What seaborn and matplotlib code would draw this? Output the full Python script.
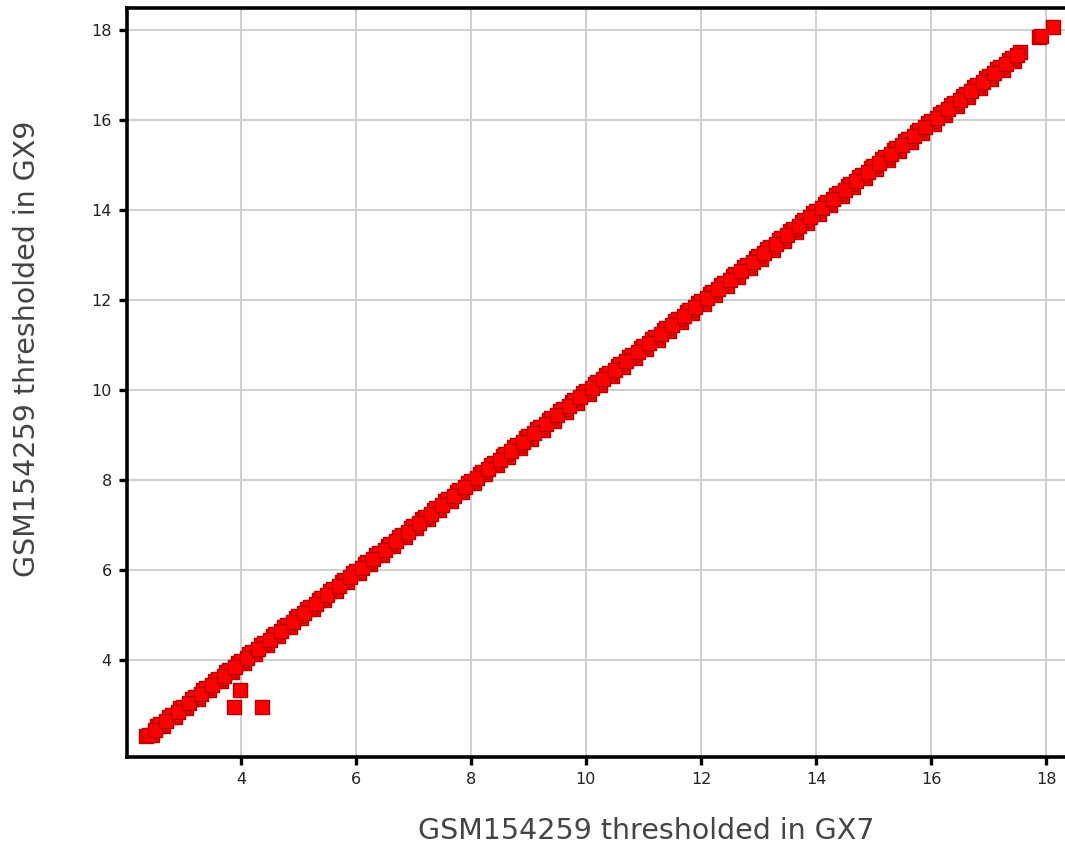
import pandas as pd
import matplotlib
matplotlib.use("Agg")
import matplotlib.pyplot as plt
import seaborn as sns

# values (GX7 vs GX9 thresholded signal)
gx7_a = [2.35, 2.55, 2.75, 2.95, 3.15, 3.35, 3.55, 3.75, 3.95, 4.15, 4.35, 4.55, 4.75, 4.95,
         5.15, 5.35, 5.55, 5.75, 5.95, 6.15, 6.35, 6.55, 6.75, 6.95, 7.15, 7.35, 7.55, 7.75,
         7.95, 8.15, 8.35, 8.55, 8.75, 8.95, 9.15, 9.35, 9.55, 9.75, 9.95, 10.15, 10.35, 10.55,
         10.75, 10.95, 11.15, 11.35, 11.55, 11.75, 11.95, 12.15, 12.35, 12.55, 12.75, 12.95,
         13.15, 13.35, 13.55, 13.75, 13.95, 14.15, 14.35, 14.55, 14.75, 14.95, 15.15, 15.35,
         15.55, 15.75, 15.95, 16.15, 16.35, 16.55, 16.75, 16.95, 17.15, 17.35, 17.55, 17.88, 18.13]
gx9_a = [2.30, 2.52, 2.73, 2.92, 3.14, 3.33, 3.53, 3.74, 3.93, 4.13, 4.34, 4.53, 4.74, 4.93,
         5.13, 5.34, 5.53, 5.74, 5.94, 6.13, 6.34, 6.53, 6.74, 6.93, 7.14, 7.33, 7.54, 7.73,
         7.94, 8.13, 8.34, 8.53, 8.74, 8.94, 9.13, 9.34, 9.53, 9.74, 9.93, 10.14, 10.33, 10.54,
         10.73, 10.94, 11.13, 11.34, 11.53, 11.74, 11.93, 12.14, 12.33, 12.54, 12.73, 12.94,
         13.13, 13.34, 13.54, 13.73, 13.94, 14.13, 14.34, 14.53, 14.74, 14.93, 15.14, 15.33,
         15.54, 15.73, 15.94, 16.13, 16.34, 16.53, 16.74, 16.93, 17.13, 17.33, 17.52, 17.84, 18.07]

gx7_b = [2.45, 2.65, 2.85, 3.05, 3.25, 3.45, 3.65, 3.85, 4.05, 4.25, 4.45, 4.65, 4.85, 5.05,
         5.25, 5.45, 5.65, 5.85, 6.05, 6.25, 6.45, 6.65, 6.85, 7.05, 7.25, 7.45, 7.65, 7.85,
         8.05, 8.25, 8.45, 8.65, 8.85, 9.05, 9.25, 9.45, 9.65, 9.85, 10.05, 10.25, 10.45, 10.65,
         10.85, 11.05, 11.25, 11.45, 11.65, 11.85, 12.05, 12.25, 12.45, 12.65, 12.85, 13.05,
         13.25, 13.45, 13.65, 13.85, 14.05, 14.25, 14.45, 14.65, 14.85, 15.05, 15.25, 15.45,
         15.65, 15.85, 16.05, 16.25, 16.45, 16.65, 16.85, 17.05, 17.25, 17.45, 17.92]
gx9_b = [2.32, 2.52, 2.72, 2.92, 3.12, 3.32, 3.52, 3.72, 3.92, 4.12, 4.32, 4.52, 4.72, 4.92,
         5.12, 5.32, 5.52, 5.72, 5.92, 6.12, 6.32, 6.52, 6.72, 6.92, 7.12, 7.32, 7.52, 7.72,
         7.92, 8.12, 8.32, 8.52, 8.72, 8.92, 9.12, 9.32, 9.52, 9.72, 9.92, 10.12, 10.32, 10.52,
         10.72, 10.92, 11.12, 11.32, 11.52, 11.72, 11.92, 12.12, 12.32, 12.52, 12.72, 12.92,
         13.12, 13.32, 13.52, 13.72, 13.92, 14.12, 14.32, 14.52, 14.72, 14.92, 15.12, 15.32,
         15.52, 15.72, 15.92, 16.12, 16.32, 16.52, 16.72, 16.92, 17.12, 17.32, 17.86]

gx7_c = [2.40, 2.60, 2.80, 3.00, 3.20, 3.40, 3.60, 3.80, 4.00, 4.20, 4.40, 4.60, 4.80, 5.00,
         5.20, 5.40, 5.60, 5.80, 6.00, 6.20, 6.40, 6.60, 6.80, 7.00, 7.20, 7.40, 7.60, 7.80,
         8.00, 8.20, 8.40, 8.60, 8.80, 9.00, 9.20, 9.40, 9.60, 9.80, 10.00, 10.20, 10.40, 10.60,
         10.80, 11.00, 11.20, 11.40, 11.60, 11.80, 12.00, 12.20, 12.40, 12.60, 12.80, 13.00,
         13.20, 13.40, 13.60, 13.80, 14.00, 14.20, 14.40, 14.60, 14.80, 15.00, 15.20, 15.40,
         15.60, 15.80, 16.00, 16.20, 16.40, 16.60, 16.80, 17.00, 17.20, 17.40]
gx9_c = [2.33, 2.57, 2.77, 2.96, 3.17, 3.37, 3.57, 3.77, 3.97, 4.17, 4.37, 4.57, 4.77, 4.97,
         5.17, 5.37, 5.57, 5.77, 5.97, 6.17, 6.37, 6.57, 6.77, 6.97, 7.17, 7.37, 7.57, 7.77,
         7.97, 8.17, 8.37, 8.57, 8.77, 8.97, 9.17, 9.37, 9.57, 9.77, 9.97, 10.17, 10.37, 10.57,
         10.77, 10.97, 11.17, 11.37, 11.57, 11.77, 11.97, 12.17, 12.37, 12.57, 12.77, 12.97,
         13.17, 13.37, 13.57, 13.77, 13.97, 14.17, 14.37, 14.57, 14.77, 14.97, 15.17, 15.37,
         15.57, 15.77, 15.97, 16.17, 16.37, 16.57, 16.77, 16.97, 17.17, 17.37]

gx7_d = [2.50, 2.70, 2.90, 3.10, 3.30, 3.50, 3.70, 3.90, 4.10, 4.30, 4.50, 4.70, 4.90, 5.10,
         5.30, 5.50, 5.70, 5.90, 6.10, 6.30, 6.50, 6.70, 6.90, 7.10, 7.30, 7.50, 7.70, 7.90,
         8.10, 8.30, 8.50, 8.70, 8.90, 9.10, 9.30, 9.50, 9.70, 9.90, 10.10, 10.30, 10.50, 10.70,
         10.90, 11.10, 11.30, 11.50, 11.70, 11.90, 12.10, 12.30, 12.50, 12.70, 12.90, 13.10,
         13.30, 13.50, 13.70, 13.90, 14.10, 14.30, 14.50, 14.70, 14.90, 15.10, 15.30, 15.50,
         15.70, 15.90, 16.10, 16.30, 16.50, 16.70, 16.90, 17.10, 17.30, 17.50]
gx9_d = [2.45, 2.64, 2.85, 3.04, 3.25, 3.44, 3.65, 3.84, 4.05, 4.24, 4.45, 4.64, 4.85, 5.04,
         5.25, 5.44, 5.65, 5.84, 6.05, 6.24, 6.45, 6.64, 6.85, 7.04, 7.25, 7.44, 7.65, 7.84,
         8.05, 8.24, 8.45, 8.64, 8.85, 9.04, 9.25, 9.44, 9.65, 9.84, 10.05, 10.24, 10.45, 10.64,
         10.85, 11.04, 11.25, 11.44, 11.65, 11.84, 12.05, 12.24, 12.45, 12.64, 12.85, 13.04,
         13.25, 13.44, 13.65, 13.84, 14.05, 14.24, 14.45, 14.64, 14.85, 15.04, 15.25, 15.44,
         15.65, 15.84, 16.05, 16.24, 16.45, 16.64, 16.85, 17.04, 17.25, 17.45]

# the three genes that fall off the diagonal
gx7_out = [3.88, 3.98, 4.37]
gx9_out = [2.96, 3.33, 2.96]

x_ticks = [4, 6, 8, 10, 12, 14, 16, 18]
y_ticks = [4, 6, 8, 10, 12, 14, 16, 18]

df = pd.DataFrame({
    "gx7": gx7_a + gx7_b + gx7_c + gx7_d + gx7_out,
    "gx9": gx9_a + gx9_b + gx9_c + gx9_d + gx9_out,
})

sns.set_style("white")
plt.rcParams["font.family"] = ["DejaVu Sans"]

fig = plt.figure(figsize=(10.65, 8.52), dpi=100)
ax = fig.add_axes([127 / 1065, 95 / 852, 1 - 127 / 1065, 749 / 852])

sns.scatterplot(data=df, x="gx7", y="gx9", marker="s", s=105,
                color="#ff0000", edgecolor="#b80000", linewidth=1.0, ax=ax, zorder=3)

ax.set_xlim(2.02, 18.33)
ax.set_ylim(1.84, 18.49)
ax.set_xticks(x_ticks)
ax.set_yticks(y_ticks)
ax.grid(True, color="#cfcfcf", linewidth=1.4, zorder=0)
ax.set_axisbelow(True)

for side in ["left", "bottom", "top"]:
    ax.spines[side].set_color("black")
    ax.spines[side].set_linewidth(2.6)
ax.spines["right"].set_visible(False)

ax.tick_params(axis="both", which="major", direction="out", length=6, width=2.4,
               color="black", labelsize=11.5, labelcolor="#222222", pad=5,
               bottom=True, left=True, top=False, right=False)

ax.set_xlabel("GSM154259 thresholded in GX7", fontsize=20.5, color="#444444")
ax.set_ylabel("GSM154259 thresholded in GX9", fontsize=20.5, color="#444444")
# xlabel anchored at its top, ylabel at its right edge
ax.xaxis.set_label_coords((646 - 127) / (1065 - 127), -(817 - 757) / 749)
ax.yaxis.set_label_coords(-(127 - 41) / 938, (757 - 349) / 749)

fig.savefig("out.png", dpi=100)
